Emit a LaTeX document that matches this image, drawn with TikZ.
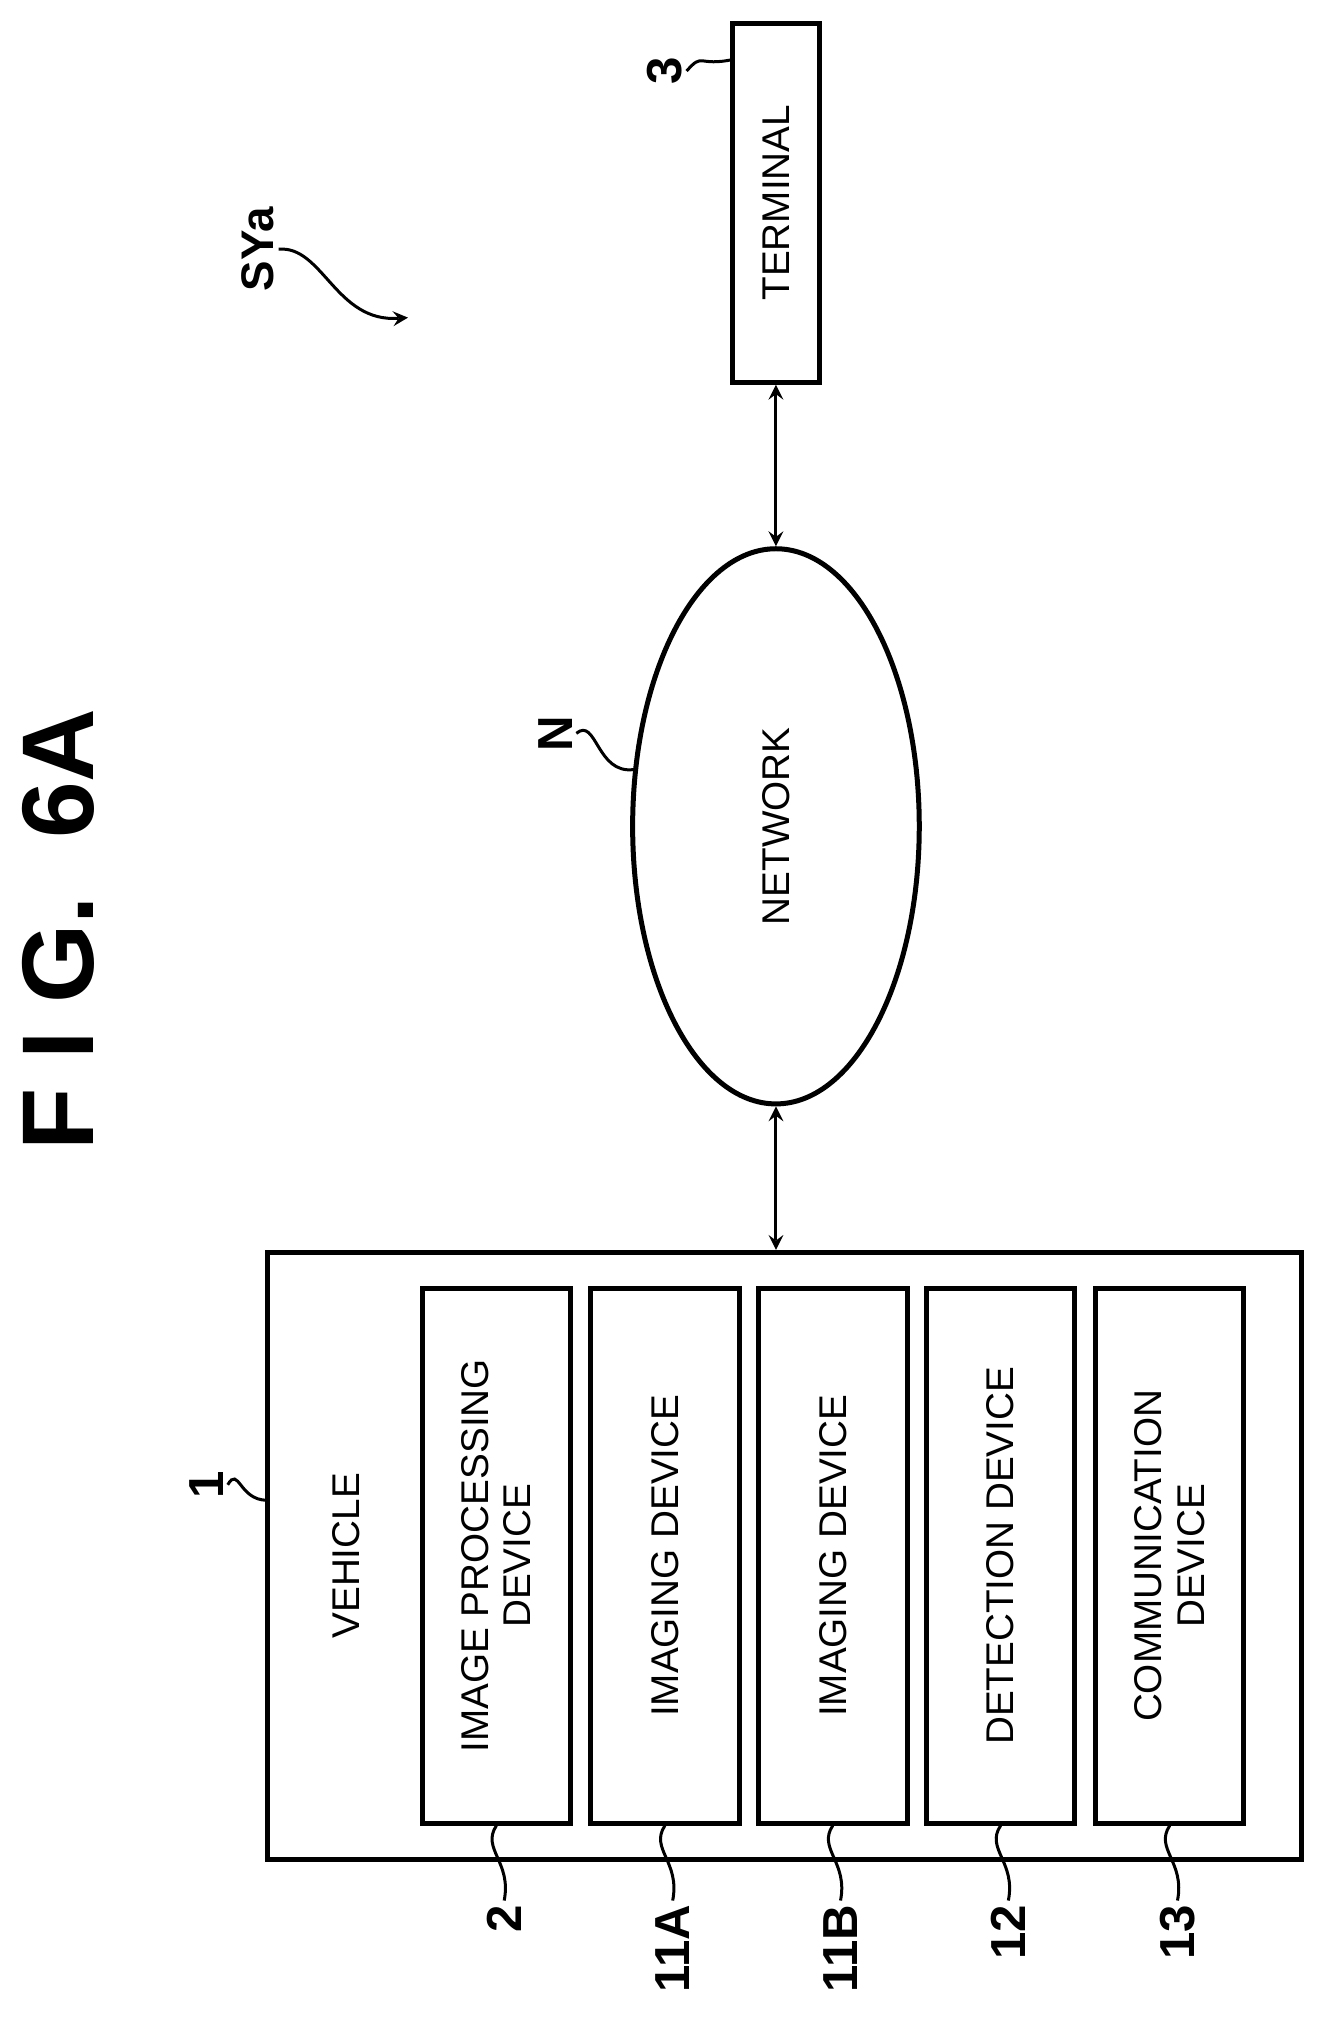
\documentclass[tikz,border=0pt]{standalone}
\usepackage{fontspec}
\setmainfont{Liberation Sans}
\usetikzlibrary{shapes.geometric}
\usetikzlibrary{arrows}

\tikzset{
  blk/.style={draw, line width=0.5mm, inner sep=0pt},
  lbl/.style={font=\bfseries\fontsize{14}{14}\selectfont, rotate=90, inner sep=1pt},
  txt/.style={font=\fontsize{11}{12}\selectfont, rotate=90, align=center},
  lead/.style={line width=0.3mm},
  link/.style={<->, >=stealth, line width=0.3mm}
}

\begin{document}
\begin{tikzpicture}[x=0.01291cm, y=-0.01291cm]
	\useasboundingbox (0,0) rectangle (1024,1563);
	\node[font=\bfseries\fontsize{29}{29}\selectfont, rotate=90] (title) at (45,720) {F I G.\ \ 6A};
	% terminal and network
	\node[blk, minimum width=278*0.01291cm, minimum height=67*0.01291cm, rotate=90] (term) at (601,157) {};
	\node[txt] at (term) {TERMINAL};
	\node[draw, line width=0.5mm, ellipse, rotate=90, minimum width=430*0.01291cm, minimum height=222*0.01291cm] (net) at (601,640) {};
	\node[txt] at (net) {NETWORK};
	\node[lbl] (lbl-3) at (515,55) {3};
	\node[lbl] (lbl-N) at (430,568) {N};
	\node[lbl, font=\bfseries\fontsize{13}{13}\selectfont] (lbl-SYa) at (200,193) {SYa};
	\coordinate (term-tip) at (568,46);
	\coordinate (net-tip) at (491,596);
	\draw[lead] (lbl-3.south) .. controls (545,40) and (540,52) .. (term-tip);
	\draw[lead] (lbl-N.south) .. controls (462,555) and (462,600) .. (net-tip);
	\coordinate (sya-end) at (316,246);
	\draw[lead, ->, >=stealth] (lbl-SYa.south) .. controls (250,190) and (260,250) .. (sya-end);
	% vehicle
	\node[blk, minimum width=470*0.01291cm, minimum height=801*0.01291cm, rotate=90] (veh) at (607.5,1205) {};
	\node[txt] (veh-txt) at (268,1205) {VEHICLE};
	\node[lbl] (lbl-1) at (160,1150) {1};
	\coordinate (veh-tip) at (207,1162);
	\draw[lead] (lbl-1.south) .. controls (185,1135) and (185,1162) .. (veh-tip);
	\draw[link] (term.west) -- (net.east);
	\draw[link] (net.west) -- (net.west |- veh.east);
	% inner devices
	\foreach \name/\x/\label/\tag in {
		ipd/384.5/{IMAGE PROCESSING\\DEVICE}/2,
		imgA/515/{IMAGING DEVICE}/11A,
		imgB/645/{IMAGING DEVICE}/11B,
		det/775/{DETECTION DEVICE}/12,
		com/906/{COMMUNICATION\\DEVICE}/13} {
		\node[blk, minimum width=414*0.01291cm, minimum height=115*0.01291cm, rotate=90] (\name) at (\x,1205) {};
		\node[txt] at (\name) {\label};
		\node[lbl, anchor=east] (lbl-\name) at (\x+6,1472) {\tag};
		\draw[lead] (\name.west) .. controls (\x-12,1432) and (\x+12,1442) .. (lbl-\name.east);
	}
\end{tikzpicture}
\end{document}
